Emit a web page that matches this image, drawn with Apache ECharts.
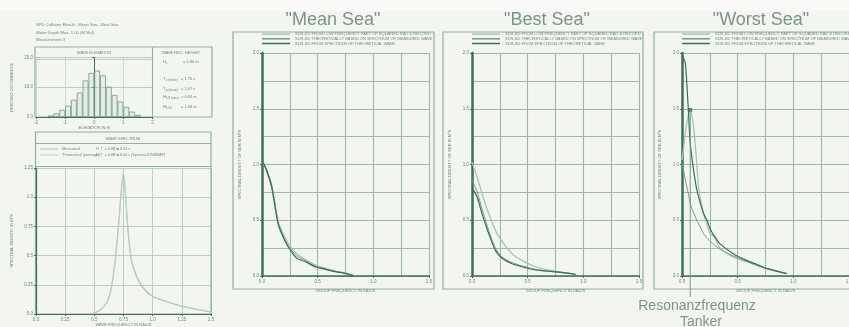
<!DOCTYPE html>
<html>
<head>
<meta charset="utf-8">
<script src="https://cdn.jsdelivr.net/npm/echarts@6/dist/echarts.min.js"></script>
<style>
html,body{margin:0;padding:0;background:#f3f5f0;}
#chart{width:849px;height:327px;}
</style>
</head>
<body>
<div id="chart"></div>
<script>
// ---- Wave elevation histogram (percent occurrence per 0.2 m bin) ----
const elevBins = [-1.5,-1.3,-1.1,-0.9,-0.7,-0.5,-0.3,-0.1,0.1,0.3,0.5,0.7,0.9,1.1,1.3,1.5];
const elevPct  = [0.5,1.2,2.4,3.8,5.8,8.2,12.3,14.8,15.6,14.0,10.2,7.4,5.2,3.4,1.8,0.7];

// ---- Wave spectrum (rad/s vs m²s) ----
const specFreq     = [0.49,0.55,0.61,0.65,0.68,0.71,0.73,0.746,0.757,0.774,0.794,0.82,0.866,0.92,1.0,1.12,1.26,1.41,1.5];
const specMeasured = [0.006,0.034,0.105,0.25,0.48,0.79,1.05,1.20,1.16,0.91,0.65,0.45,0.31,0.22,0.15,0.105,0.063,0.034,0.015];
const specTheory   = [0.004,0.03,0.10,0.24,0.46,0.77,1.03,1.17,1.15,0.93,0.67,0.46,0.32,0.23,0.155,0.11,0.066,0.036,0.016];

// ---- "Mean Sea" ----
const meanFreq     = [0,0.04,0.087,0.117,0.147,0.19,0.236,0.31,0.386,0.476,0.566,0.656,0.746,0.82];
const meanRao      = [1.04,0.95,0.80,0.62,0.457,0.35,0.26,0.16,0.13,0.083,0.06,0.039,0.024,0.0];
const meanMeasured = [1.04,0.94,0.79,0.63,0.48,0.38,0.29,0.20,0.15,0.10,0.07,0.045,0.028,0.01];
const meanTheory   = [1.03,0.96,0.82,0.65,0.47,0.36,0.27,0.18,0.14,0.09,0.065,0.042,0.026,0.005];

// ---- "Best Sea" ----
const bestFreq     = [0,0.045,0.09,0.15,0.21,0.27,0.36,0.45,0.57,0.72,0.87,0.93];
const bestRao      = [0.79,0.71,0.56,0.38,0.23,0.16,0.11,0.083,0.054,0.039,0.024,0.015];
const bestMeasured = [0.86,0.76,0.60,0.41,0.25,0.17,0.12,0.09,0.06,0.042,0.026,0.015];
const bestTheory   = [1.02,0.89,0.74,0.56,0.41,0.31,0.20,0.14,0.083,0.048,0.024,0.015];

// ---- "Worst Sea" ----
const worstFreq     = [0,0.015,0.03,0.045,0.06,0.074,0.09,0.104,0.128,0.149,0.194,0.224,0.254,0.29,0.34,0.46,0.58,0.655,0.76,0.94];
const worstRao      = [1.04,1.15,1.28,1.38,1.46,1.49,1.43,1.34,1.07,0.80,0.56,0.46,0.38,0.35,0.25,0.17,0.13,0.11,0.069,0.024];
const worstMeasured = [1.01,0.94,0.86,0.79,0.72,0.65,0.60,0.57,0.51,0.47,0.38,0.34,0.31,0.28,0.24,0.18,0.13,0.10,0.065,0.024];
const worstTheory   = [1.97,1.95,1.91,1.70,1.43,1.19,1.05,0.95,0.80,0.71,0.56,0.50,0.42,0.36,0.29,0.20,0.14,0.11,0.069,0.02];

// resonance frequency of the tanker and the response peak there
const resFreq = 0.074;
const resPeak = 1.49;

const seriesNames = [
  'SDR-SD FROM LOW FREQUENCY PART OF SQUARED RAO & RECORD',
  'SDR-SD THEORETICALLY BASED ON SPECTRUM OF MEASURED WAVE',
  'SDR-SD FROM SPECTRUM OF THEORETICAL WAVE'
];

const C = {
  band: '#f9faf8', grid: '#9cb9ac', axis: '#3f6f5e', text: '#6c8a7d', title: '#7b958a',
  light: '#a9c3b7', mid: '#729a89', dark: '#3d6b59', box: '#8fb0a2'
};
const FONT = 'Liberation Sans, Arial, sans-serif';

const pairs = (xs, ys) => xs.map((x, i) => [x, ys[i]]);
const trim = v => { let s = v.toFixed(2); if (s.endsWith('0')) s = s.slice(0, -1); return s; };

const chart = echarts.init(document.getElementById('chart'), null, {renderer: 'canvas'});

const grids = [
  {left: 36,  top: 57.5, width: 116.5, height: 59.5},
  {left: 36,  top: 168,  width: 175,   height: 146},
  {left: 262, top: 53,   width: 167,   height: 223},
  {left: 472, top: 53,   width: 167,   height: 223},
  {left: 682, top: 53,   width: 167,   height: 223}
].map(g => Object.assign({outerBoundsMode: 'none', containLabel: false}, g));

const tinyLabel = {fontSize: 4.5, color: C.text, fontFamily: FONT};
const gridLine = {show: true, lineStyle: {color: C.grid, width: 1.1}};

function panelX(i) {
  return {
    gridIndex: i, type: 'value', min: 0, max: 1.5, interval: 0.5,
    axisLine: {show: true, onZero: false, lineStyle: {color: C.axis, width: 1.6}},
    axisTick: {show: true, length: 2, lineStyle: {color: C.axis}},
    axisLabel: Object.assign({margin: 3, formatter: v => v.toFixed(1)}, tinyLabel),
    splitLine: gridLine,
    minorTick: {show: false, splitNumber: 2},
    minorSplitLine: gridLine,
    name: 'GROUP FREQUENCY IN RAD/S', nameLocation: 'middle', nameGap: 9,
    nameTextStyle: {fontSize: 4, color: C.text, fontFamily: FONT}
  };
}
function panelY(i) {
  return {
    gridIndex: i, type: 'value', min: 0, max: 2, interval: 0.5,
    axisLine: {show: true, onZero: false, lineStyle: {color: C.axis, width: 2.5}},
    axisTick: {show: true, length: 2, lineStyle: {color: C.axis}},
    axisLabel: Object.assign({margin: 3, formatter: v => v.toFixed(1)}, tinyLabel),
    splitLine: gridLine,
    minorTick: {show: false, splitNumber: 2},
    minorSplitLine: gridLine,
    name: 'SPECTRAL DENSITY OF SDR IN M²S', nameLocation: 'middle', nameGap: 20,
    nameTextStyle: {fontSize: 4, color: C.text, fontFamily: FONT}
  };
}

const xAxes = [
  {
    gridIndex: 0, type: 'value', min: -2, max: 2, interval: 1,
    axisLine: {show: true, onZero: false, lineStyle: {color: C.axis, width: 1}},
    axisTick: {show: true, length: 2},
    axisLabel: Object.assign({margin: 3}, tinyLabel),
    splitLine: {show: true, lineStyle: {color: '#c3d4cc', width: 0.8}},
    name: 'ELEVATION IN M', nameLocation: 'middle', nameGap: 9,
    nameTextStyle: {fontSize: 4, color: C.text, fontFamily: FONT}
  },
  {
    gridIndex: 1, type: 'value', min: 0, max: 1.5, interval: 0.25,
    axisLine: {show: true, onZero: false, lineStyle: {color: C.axis, width: 1.2}},
    axisTick: {show: true, length: 2},
    axisLabel: Object.assign({margin: 3, formatter: trim}, tinyLabel),
    splitLine: {show: true, lineStyle: {color: '#b4c9bf', width: 0.9}},
    name: 'WAVE FREQUENCY IN RAD/S', nameLocation: 'middle', nameGap: 9,
    nameTextStyle: {fontSize: 4, color: C.text, fontFamily: FONT}
  },
  panelX(2), panelX(3), panelX(4)
];
const yAxes = [
  {
    gridIndex: 0, type: 'value', min: 0, max: 20, interval: 10,
    axisLine: {show: true, lineStyle: {color: C.axis, width: 1}},
    axisTick: {show: true, length: 2},
    axisLabel: Object.assign({margin: 3, formatter: v => v.toFixed(1)}, tinyLabel),
    splitLine: {show: true, lineStyle: {color: '#b4c9bf', width: 0.9}},
    name: 'PERCENT OCCURRENCE', nameLocation: 'middle', nameGap: 22,
    nameTextStyle: {fontSize: 4, color: C.text, fontFamily: FONT}
  },
  {
    gridIndex: 1, type: 'value', min: 0, max: 1.25, interval: 0.25,
    axisLine: {show: true, lineStyle: {color: C.axis, width: 1.2}},
    axisTick: {show: true, length: 2},
    axisLabel: Object.assign({margin: 3, formatter: trim}, tinyLabel),
    splitLine: {show: true, lineStyle: {color: '#b4c9bf', width: 0.9}},
    name: 'SPECTRAL DENSITY IN M²S', nameLocation: 'middle', nameGap: 22,
    nameTextStyle: {fontSize: 4, color: C.text, fontFamily: FONT}
  },
  panelY(2), panelY(3), panelY(4)
];

const lineStyles = [
  {color: C.light, width: 1.3},
  {color: C.mid, width: 1.0},
  {color: C.dark, width: 1.2}
];

function panelSeries(i, xs, sets) {
  return sets.map((ys, k) => ({
    type: 'line', name: seriesNames[k], xAxisIndex: i, yAxisIndex: i,
    data: pairs(xs, ys), showSymbol: false, symbol: 'none', smooth: 0.2,
    lineStyle: lineStyles[k], itemStyle: {color: lineStyles[k].color}, z: 3 + k
  }));
}

const series = [
  {
    type: 'bar', xAxisIndex: 0, yAxisIndex: 0, data: pairs(elevBins, elevPct),
    barWidth: 5.8, itemStyle: {color: 'rgba(160,190,176,0.15)', borderColor: C.mid, borderWidth: 0.8}
  },
  {
    type: 'line', name: 'Measured', xAxisIndex: 1, yAxisIndex: 1, data: pairs(specFreq, specMeasured),
    showSymbol: false, smooth: 0.2, lineStyle: {color: C.light, width: 1.1}
  },
  {
    type: 'line', name: 'Theoretical (average)', xAxisIndex: 1, yAxisIndex: 1, data: pairs(specFreq, specTheory),
    showSymbol: false, smooth: 0.2, lineStyle: {color: '#bcd0c6', width: 0.9}
  },
  ...panelSeries(2, meanFreq, [meanMeasured, meanTheory, meanRao]),
  ...panelSeries(3, bestFreq, [bestTheory, bestMeasured, bestRao]),
  ...panelSeries(4, worstFreq, [worstRao, worstMeasured, worstTheory]),
  {
    type: 'scatter', xAxisIndex: 4, yAxisIndex: 4, data: [[resFreq, resPeak]],
    symbol: 'rect', symbolSize: 4, itemStyle: {color: C.dark}, z: 10
  }
];

function legendFor(left) {
  return {
    left: left, top: 32, orient: 'vertical', data: seriesNames,
    icon: 'rect', itemWidth: 28, itemHeight: 1.5, itemGap: 0.5,
    textStyle: {fontSize: 4, color: C.text, fontFamily: FONT, lineHeight: 4.2, padding: [0, 0, 0, 0]},
    padding: 0, selectedMode: false
  };
}

const rect = (x, y, w, h, extra) => Object.assign({
  type: 'rect', shape: {x: x, y: y, width: w, height: h},
  style: {fill: 'none', stroke: C.box, lineWidth: 1.2}, silent: true
}, extra || {});
const hline = (x1, x2, y, color, w) => ({
  type: 'line', shape: {x1: x1, y1: y, x2: x2, y2: y}, style: {stroke: color || C.box, lineWidth: w || 1.1}, silent: true
});
const vline = (x, y1, y2, color, w) => ({
  type: 'line', shape: {x1: x, y1: y1, x2: x, y2: y2}, style: {stroke: color || C.box, lineWidth: w || 1.1}, silent: true
});
const txt = (x, y, s, size, extra) => ({
  type: 'text', x: x, y: y, silent: true,
  style: Object.assign({text: s, fontSize: size, fill: C.text, fontFamily: FONT, align: 'left', verticalAlign: 'middle'}, extra || {})
});

const graphic = [
  // lighter strip along the top edge
  {type: 'rect', shape: {x: 0, y: 0, width: 849, height: 11}, style: {fill: C.band}, silent: true, z: -10},

  // report header lines
  txt(36, 25, 'SPD Collision Result - Mean Sea - Best Sea', 4.2),
  txt(36, 33, 'Water Depth Max. 1.00 (M Msl)', 4.2),
  txt(36, 40, 'Measurement 3', 4.2),

  // wave elevation box with statistics column
  rect(35, 47, 177, 70),
  vline(152.5, 47, 117),
  hline(35, 152.5, 59.5, '#b4c9bf', 0.8),
  txt(94, 52.5, 'WAVE ELEVATION', 4, {align: 'center'}),
  txt(181, 53, 'WAVE REC. HEIGHT', 4, {align: 'center'}),
  txt(163, 62, 'H', 4), txt(166, 63.5, 's', 3), txt(183, 62, '= 0.86 m', 4),
  txt(163, 79, 'T', 4), txt(166, 80.5, 'z (mean)', 3), txt(181, 79, '= 1.76 s', 4),
  txt(163, 89, 'T', 4), txt(166, 90.5, 'p (mean)', 3), txt(181, 89, '= 2.07 s', 4),
  txt(163, 97, 'H', 4), txt(166, 98.5, '1/3 (max)', 3), txt(181, 97, '= 0.84 m', 4),
  txt(163, 107, 'H', 4), txt(166, 108.5, '1/10', 3), txt(181, 107, '= 1.08 m', 4),

  // wave spectrum box with its key
  rect(35.5, 132, 175.5, 182),
  hline(35.5, 211, 143.5),
  hline(35.5, 211, 166.5, C.box, 1.2),
  txt(123, 139, 'WAVE SPECTRUM', 4, {align: 'center'}),
  hline(40, 58, 149, C.light, 1), txt(62, 149, 'Measured', 4), txt(86, 149, ':', 4),
  txt(96, 149, 'H  T  = 0.86 m', 3.6), txt(113, 149, 'T  = 8.40 s', 3.6),
  hline(40, 58, 155, '#bcd0c6', 1), txt(62, 155, 'Theoretical (average)', 4), txt(86, 155, ':', 4),
  txt(96, 155, 'H  T  = 0.86 m', 3.6), txt(113, 155, 'T  = 8.40 s (Spectral JONSWAP)', 3.6),

  // boxes round the three sea-state panels
  rect(233, 32, 201, 257),
  rect(443, 32, 200, 257),
  rect(654, 32, 220, 257),

  // sea-state titles
  txt(333, 20, '"Mean Sea"', 18, {align: 'center', fill: C.title}),
  txt(547, 20, '"Best Sea"', 18, {align: 'center', fill: C.title}),
  txt(761, 20, '"Worst Sea"', 18, {align: 'center', fill: C.title}),

  // resonance annotation
  txt(697, 306, 'Resonanzfrequenz', 14, {align: 'center', fill: C.title}),
  txt(701, 322, 'Tanker', 14, {align: 'center', fill: C.title})
];

chart.setOption({
  backgroundColor: '#f3f5f0',
  animation: false,
  grid: grids,
  xAxis: xAxes,
  yAxis: yAxes,
  legend: [legendFor(262), legendFor(472), legendFor(682)],
  series: series,
  graphic: graphic
});

// vertical marker from the resonance peak down to the annotation
const peakPx = chart.convertToPixel({xAxisIndex: 4, yAxisIndex: 4}, [resFreq, resPeak]);
const basePx = chart.convertToPixel({xAxisIndex: 4, yAxisIndex: 4}, [resFreq, 0]);
chart.setOption({
  graphic: graphic.concat([{
    type: 'line', shape: {x1: peakPx[0], y1: peakPx[1], x2: basePx[0], y2: basePx[1] + 21},
    style: {stroke: C.mid, lineWidth: 1}, silent: true, z: 20
  }])
}, {replaceMerge: ['graphic']});
</script>
</body>
</html>
